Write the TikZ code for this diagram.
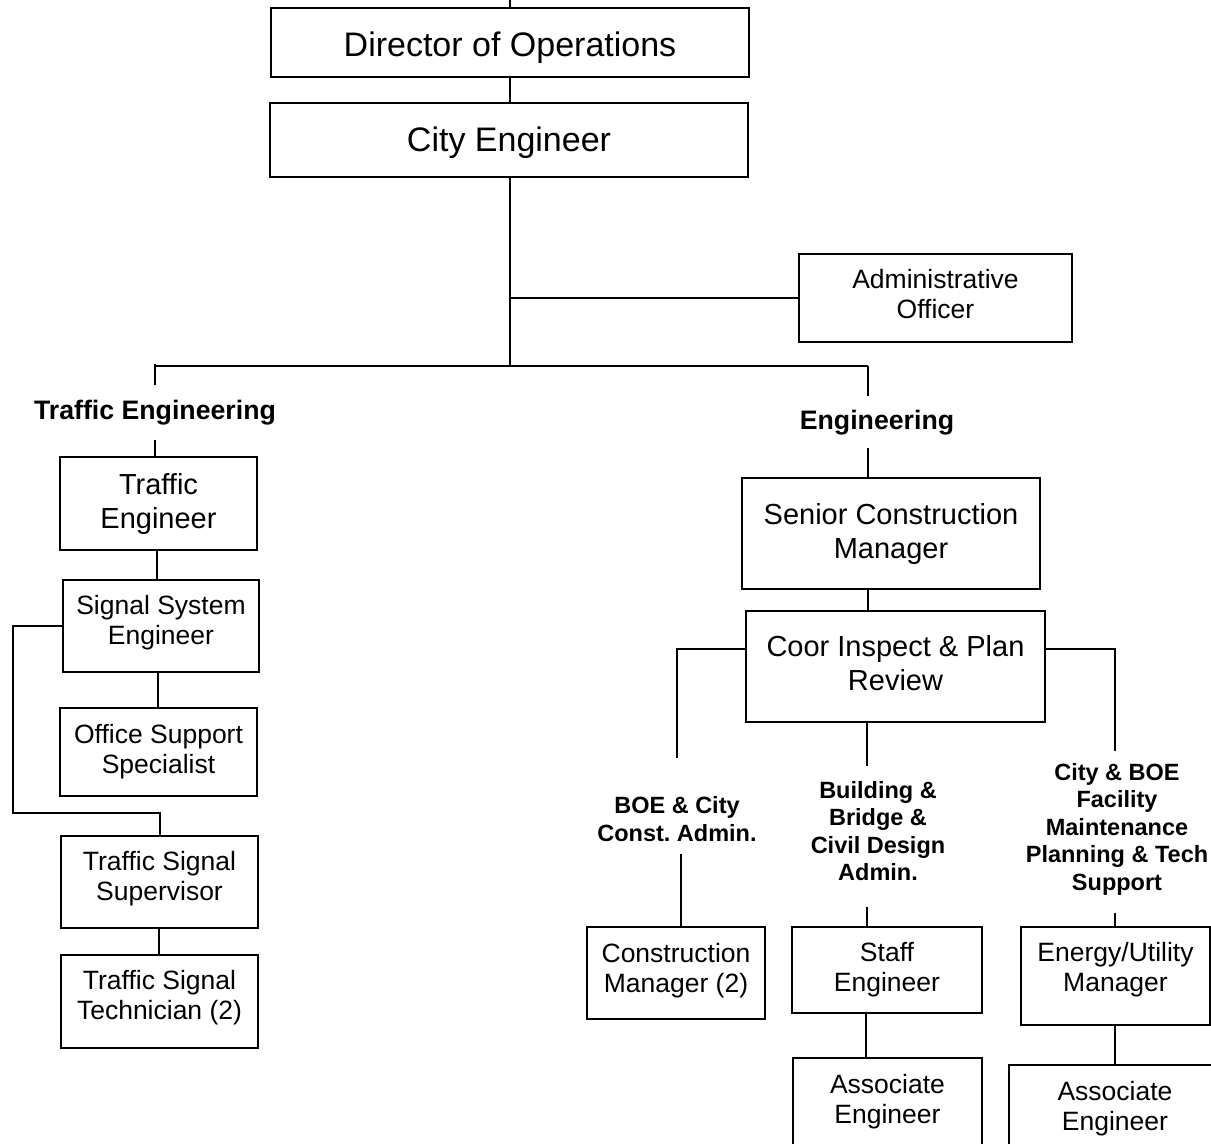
\documentclass[tikz,border=0pt]{standalone}
\usepackage{fontspec}
\setmainfont{Liberation Sans}
% invisible struts that tune where a box's text sits
\newcommand{\lowerby}[1]{\rule[-#1pt]{0pt}{#1pt}}
\newcommand{\raiseto}[1]{\rule{0pt}{#1pt}}
\begin{document}
\frenchspacing
\begin{tikzpicture}[x=1pt,y=-1pt,
  unit/.style={draw, line width=2.5pt, align=center, inner sep=0pt},
  bigbox/.style={unit, font=\fontsize{34}{40}\selectfont},
  midbox/.style={unit, font=\fontsize{29}{34}\selectfont},
  smallbox/.style={unit, font=\fontsize{26.5}{30}\selectfont},
  grp/.style={align=center, inner sep=0pt, font=\bfseries\fontsize{23.5}{27.5}\selectfont},
  grpbig/.style={align=center, inner sep=0pt, font=\bfseries\fontsize{26.7}{30}\selectfont},
  link/.style={line width=1.5pt}]
\useasboundingbox (0,0) rectangle (1211,1144);
\clip (0,0) rectangle (1211,1144);

% top of the chart
\node[bigbox, minimum width=478, minimum height=69] (dir) at (510,42.5) {\raiseto{35}Director of Operations};
\node[bigbox, minimum width=478, minimum height=74] (city) at (509,140) {\raiseto{31}City Engineer};
\node[smallbox, minimum width=273, minimum height=88] (admin) at (935.5,298) {Administrative\\Officer\lowerby{8}};

% traffic engineering branch
\node[grpbig] (tlab) at (155,413) {Traffic Engineering};
\node[midbox, minimum width=197, minimum height=93] (te) at (158.5,503.5) {Traffic\\Engineer};
\node[smallbox, minimum width=196, minimum height=92] (sse) at (161,626) {Signal System\\Engineer\lowerby{11.5}};
\node[smallbox, minimum width=197, minimum height=88] (oss) at (158.5,752) {Office Support\\Specialist};
\node[smallbox, minimum width=197, minimum height=92] (tss) at (159.5,882) {Traffic Signal\\Supervisor\lowerby{11.5}};
\node[smallbox, minimum width=197, minimum height=93] (tst) at (159.5,1001.5) {Traffic Signal\\Technician (2)\lowerby{12.5}};

% engineering branch
\node[grpbig] (elab) at (877,423) {Engineering};
\node[midbox, minimum width=298, minimum height=111] (scm) at (891,533.5) {Senior Construction\\Manager};
\node[midbox, minimum width=299, minimum height=111] (coor) at (895.5,666.5) {Coor Inspect \& Plan\\Review\lowerby{8}};
\node[grp] (boe) at (677,819) {BOE \& City\\Const. Admin.};
\node[grp] (bld) at (878,831) {Building \&\\Bridge \&\\Civil Design\\Admin.};
\node[grp] (cbf) at (1117,829) {City \& BOE\\Facility\\Maintenance\\Planning \& Tech\\Support};
\node[smallbox, minimum width=178, minimum height=92] (cm) at (676,973) {Construction\\Manager (2)\lowerby{10.6}};
\node[smallbox, minimum width=190, minimum height=86] (se) at (887,970) {Staff\\Engineer};
\node[smallbox, minimum width=189, minimum height=98] (eum) at (1115.5,976) {Energy/Utility\\Manager\lowerby{17.6}};
\node[smallbox, minimum width=189, minimum height=92] (ae1) at (887.5,1104) {Associate\\Engineer\lowerby{10.6}};
\node[smallbox, minimum width=212, minimum height=90] (ae2) at (1115,1110) {Associate\\Engineer\lowerby{8.6}};

% free ends and junctions
\coordinate (topin) at (510,0);
\coordinate (hub) at (510,366);
\coordinate (lft) at (155,366);
\coordinate (rgt) at (868,366);

% connectors
\draw[link] (topin) -- (dir.north);
\draw[link] (dir.south) -- (dir.south |- city.north);
\draw[link] (city.south -| hub) -- (hub);
\draw[link] (hub |- admin.west) -- (admin.west);
\draw[link] (lft) -- (rgt);

\draw[link] (155,364) -- (155,385);
\draw[link] (155,440) -- (155,457);
\draw[link] (157,550) -- (157,580);
\draw[link] (sse.west |- 0,626) -- (13,626) -- (13,813) -- (160,813) -- (160,836);
\draw[link] (158,672) -- (158,708);
\draw[link] (159,928) -- (159,955);

\draw[link] (rgt) -- (868,396);
\draw[link] (868,448) -- (868,478);
\draw[link] (868,589) -- (868,611);
\draw[link] (coor.west |- 0,649) -- (677,649) -- (677,758);
\draw[link] (867,722) -- (867,766);
\draw[link] (coor.east |- 0,649) -- (1115,649) -- (1115,751);
\draw[link] (681,854) -- (681,927);
\draw[link] (867,907) -- (867,927);
\draw[link] (1115,913) -- (1115,927);
\draw[link] (866,1013) -- (866,1058);
\draw[link] (1115,1025) -- (1115,1065);
\end{tikzpicture}
\end{document}
